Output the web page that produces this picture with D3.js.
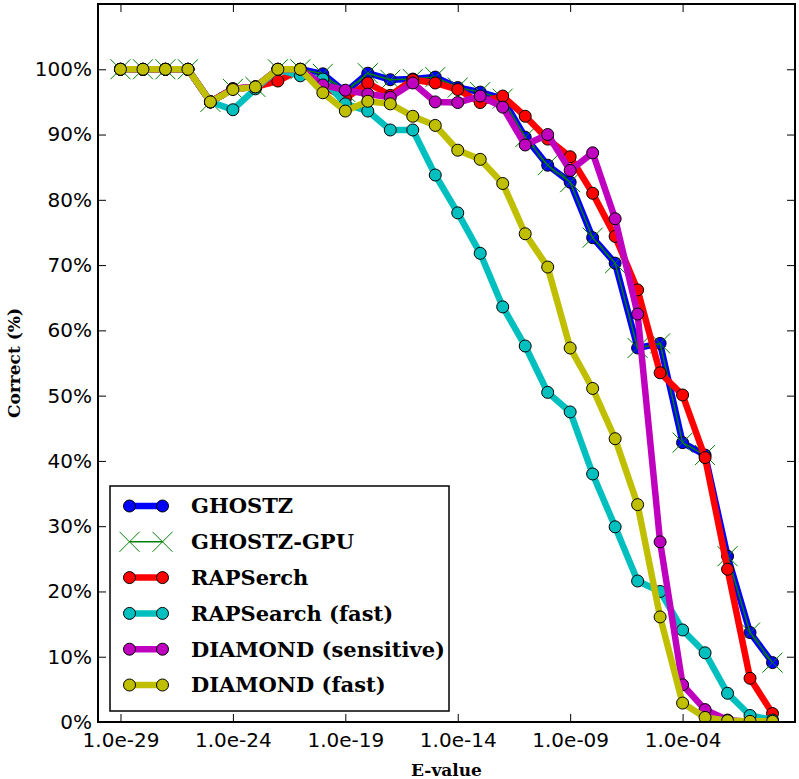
<!DOCTYPE html>
<html>
<head>
<meta charset="utf-8">
<script src="https://cdn.jsdelivr.net/npm/d3@7/dist/d3.min.js"></script>
<style>
  html, body { margin: 0; padding: 0; background: #ffffff; }
  svg { display: block; }
</style>
</head>
<body>
<svg id="chart" width="799" height="779"></svg>
<script>
// ---------------- data ----------------
const eExponents = [-29,-28,-27,-26,-25,-24,-23,-22,-21,-20,-19,-18,-17,-16,-15,-14,-13,-12,-11,-10,-9,-8,-7,-6,-5,-4,-3,-2,-1,0];

const ghostz      = [100,100,100,100,95,97,97.3,100,100,99.3,96.5,99.4,98.4,98.5,98.8,97.2,96.5,95.5,89.6,85.3,82.7,74.2,70.3,57.3,58.0,42.8,40.9,25.4,13.7,9.1];
const ghostzGpu   = [100,100,100,100,95,97,97.3,100,100,99.3,96.5,99.4,98.4,98.5,98.8,97.2,96.5,95.5,89.6,85.3,82.7,74.2,70.3,57.3,58.0,42.8,40.9,25.4,13.7,9.1];
const rapserch    = [100,100,100,100,95,97,97.3,98.2,100,97.5,95.5,97.9,96.0,98.4,97.9,96.9,94.9,95.9,92.8,89.3,86.6,81.0,74.4,66.2,53.5,50.1,40.5,23.4,6.7,1.3];
const rapFast     = [100,100,100,100,95,93.8,97,100,99,98.5,94.7,93.6,90.7,90.7,83.8,78.0,71.8,63.6,57.6,50.5,47.5,38.0,29.9,21.6,20.0,14.1,10.6,4.4,1.0,0.3];
const diamondSens = [100,100,100,100,95,97,97.3,100,100,97.6,96.8,96.2,95.7,97.9,95.0,94.9,95.9,94.2,88.4,90.0,84.5,87.2,77.1,62.5,27.6,5.7,1.9,0.3,0,0];
const diamondFast = [100,100,100,100,95,96.9,97.3,100,100,96.4,93.6,95.1,94.7,92.8,91.4,87.6,86.2,82.5,74.8,69.7,57.3,51.1,43.4,33.3,16.1,2.9,0.7,0.2,0.1,0.1];

const seriesNames = ["GHOSTZ","GHOSTZ-GPU","RAPSerch","RAPSearch (fast)","DIAMOND (sensitive)","DIAMOND (fast)"];
const seriesValues = [ghostz, ghostzGpu, rapserch, rapFast, diamondSens, diamondFast];
const seriesColors = ["#0000ff","#008000","#ff0000","#00bfbf","#bf00bf","#bfbf00"];
const seriesMarkers = ["o","x","o","o","o","o"];

const xTickExponents = [-29,-24,-19,-14,-9,-4];
const xTickLabels = ["1.0e-29","1.0e-24","1.0e-19","1.0e-14","1.0e-09","1.0e-04"];
const yTickValues = [0,10,20,30,40,50,60,70,80,90,100];
const yTickLabels = ["0%","10%","20%","30%","40%","50%","60%","70%","80%","90%","100%"];

const xLabel = "E-value";
const yLabel = "Correct (%)";

// ---------------- layout ----------------
const L = 98, R = 795, T = 4, B = 722;
const svg = d3.select("#chart");

const x = d3.scaleLog().domain([1e-30, 1e1]).range([L, R]);
const y = d3.scaleLinear().domain([0, 110]).range([B, T]);

svg.append("rect").attr("x",0).attr("y",0).attr("width",799).attr("height",779).attr("fill","#fff");

svg.append("defs").append("clipPath").attr("id","plotclip")
  .append("rect").attr("x",L).attr("y",T).attr("width",R-L).attr("height",B-T);

const plot = svg.append("g").attr("clip-path","url(#plotclip)");

const line = d3.line()
  .x((d,i) => x(Math.pow(10, eExponents[i])))
  .y(d => y(d));

function drawX(g, cx, cy, s, color, w) {
  g.append("path")
    .attr("d", `M${cx-s},${cy-s}L${cx+s},${cy+s}M${cx-s},${cy+s}L${cx+s},${cy-s}`)
    .attr("stroke", color).attr("stroke-width", w).attr("fill","none");
}

seriesValues.forEach((vals, si) => {
  const g = plot.append("g");
  const color = seriesColors[si];
  if (seriesMarkers[si] === "o") {
    g.append("path").datum(vals)
      .attr("d", line)
      .attr("fill","none").attr("stroke", color)
      .attr("stroke-width", 6.5).attr("stroke-linejoin","round");
    g.selectAll("circle").data(vals).enter().append("circle")
      .attr("cx", (d,i) => x(Math.pow(10, eExponents[i])))
      .attr("cy", d => y(d))
      .attr("r", 6)
      .attr("fill", color).attr("stroke","#000").attr("stroke-width",1);
  } else {
    g.append("path").datum(vals)
      .attr("d", line)
      .attr("fill","none").attr("stroke", color)
      .attr("stroke-width", 1.5).attr("stroke-linejoin","round");
    vals.forEach((d,i) => drawX(g, x(Math.pow(10, eExponents[i])), y(d), 10, color, 1));
  }
});

// ---------------- axes ----------------
const xTickVals = xTickExponents.map(e => Math.pow(10, e));
const fmtX = v => xTickLabels[xTickVals.indexOf(v)];
const fmtY = v => yTickLabels[yTickValues.indexOf(v)];

const axB = svg.append("g").attr("transform",`translate(0,${B})`)
  .call(d3.axisBottom(x).tickValues(xTickVals).tickFormat(fmtX).tickSizeInner(-8).tickSizeOuter(0).tickPadding(11));
const axT = svg.append("g").attr("transform",`translate(0,${T})`)
  .call(d3.axisTop(x).tickValues(xTickVals).tickFormat("").tickSizeInner(-8).tickSizeOuter(0));
const axL = svg.append("g").attr("transform",`translate(${L},0)`)
  .call(d3.axisLeft(y).tickValues(yTickValues).tickFormat(fmtY).tickSizeInner(-8).tickSizeOuter(0).tickPadding(6));
const axR = svg.append("g").attr("transform",`translate(${R},0)`)
  .call(d3.axisRight(y).tickValues(yTickValues).tickFormat("").tickSizeInner(-8).tickSizeOuter(0));

[axB, axT, axL, axR].forEach(a => {
  a.select(".domain").remove();
  a.selectAll(".tick line").attr("stroke","#000").attr("stroke-width",1);
  a.selectAll(".tick text").attr("fill","#000")
    .style("font-family","'DejaVu Sans'").style("font-size","20px");
});

svg.append("rect").attr("x",L).attr("y",T).attr("width",R-L).attr("height",B-T)
  .attr("fill","none").attr("stroke","#000").attr("stroke-width",2);

// axis labels
svg.append("text").attr("x",(L+R)/2).attr("y",776)
  .attr("text-anchor","middle")
  .style("font-family","'DejaVu Serif'").style("font-weight","bold").style("font-size","17px")
  .text(xLabel);
svg.append("text").attr("transform",`translate(20,${(T+B)/2}) rotate(-90)`)
  .attr("text-anchor","middle")
  .style("font-family","'DejaVu Serif'").style("font-weight","bold").style("font-size","17px")
  .text(yLabel);

// ---------------- legend ----------------
const lg = svg.append("g");
lg.append("rect").attr("x",110).attr("y",486).attr("width",339).attr("height",225)
  .attr("fill","#fff").attr("stroke","#000").attr("stroke-width",1.5);

seriesNames.forEach((name, si) => {
  const cy = 506 + si*35.8;
  const color = seriesColors[si];
  const x1 = 129.5, x2 = 162.5;
  if (seriesMarkers[si] === "o") {
    lg.append("line").attr("x1",x1).attr("x2",x2).attr("y1",cy).attr("y2",cy)
      .attr("stroke",color).attr("stroke-width",6.5);
    [x1,x2].forEach(cx => lg.append("circle").attr("cx",cx).attr("cy",cy).attr("r",6)
      .attr("fill",color).attr("stroke","#000").attr("stroke-width",1));
  } else {
    lg.append("line").attr("x1",x1).attr("x2",x2).attr("y1",cy).attr("y2",cy)
      .attr("stroke",color).attr("stroke-width",1.5);
    [x1,x2].forEach(cx => drawX(lg, cx, cy, 10, color, 1));
  }
  lg.append("text").attr("x",191).attr("y",cy).attr("dy","0.35em")
    .style("font-family","'DejaVu Serif'").style("font-weight","bold").style("font-size","21px")
    .attr("fill","#000")
    .text(name);
});
</script>
</body>
</html>
